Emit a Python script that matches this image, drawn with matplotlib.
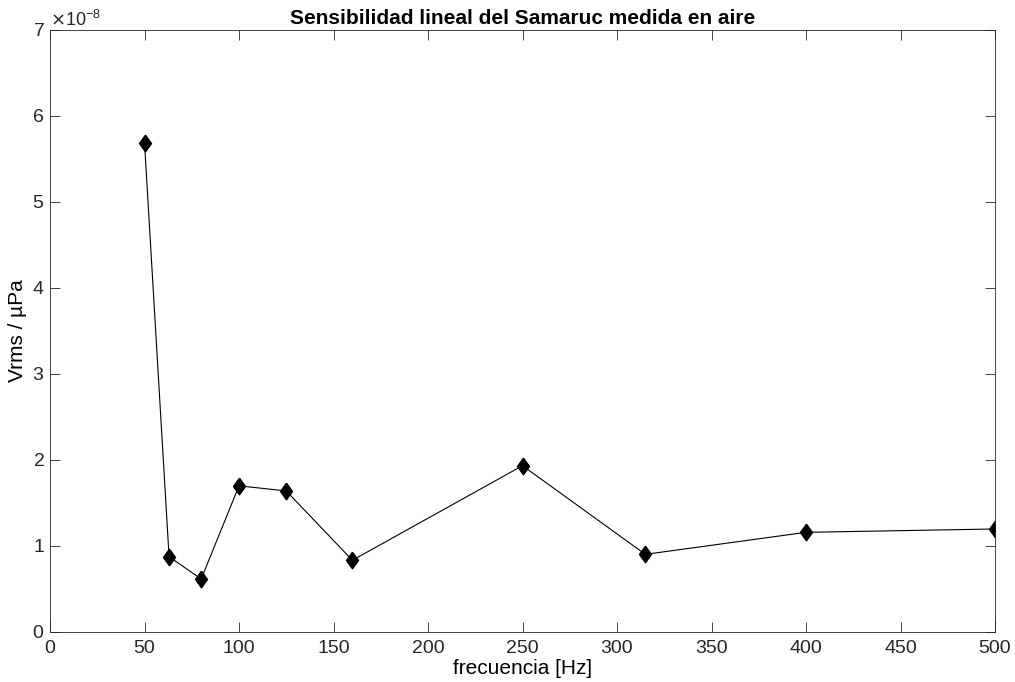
import matplotlib
matplotlib.use('Agg')
import matplotlib.pyplot as plt
from matplotlib.ticker import ScalarFormatter

plt.rcParams['font.family'] = ['Liberation Sans', 'DejaVu Sans']

# frecuencias de tercio de octava y sensibilidad medida
freq = [50, 63, 80, 100, 125, 160, 250, 315, 400, 500]
sens = [5.69e-8, 0.876e-8, 0.616e-8, 1.70e-8, 1.64e-8, 0.834e-8,
        1.934e-8, 0.903e-8, 1.159e-8, 1.198e-8]
xticks = [0, 50, 100, 150, 200, 250, 300, 350, 400, 450, 500]
yticks = [0, 1e-8, 2e-8, 3e-8, 4e-8, 5e-8, 6e-8, 7e-8]

fig = plt.figure(figsize=(10.15, 6.82), dpi=100)
ax = fig.add_axes([50 / 1015, 50 / 682, 945 / 1015, 602 / 682])

diamond = [(0, 1), (0.72, 0), (0, -1), (-0.72, 0), (0, 1)]
ax.plot(freq, sens, color='black', lw=0.8, marker=diamond,
        markersize=12, markerfacecolor='black', markeredgecolor='black')

ax.set_xlim(0, 500)
ax.set_ylim(0, 7e-8)
ax.set_xticks(xticks)
ax.set_yticks(yticks)

fmt = ScalarFormatter(useMathText=True)
fmt.set_powerlimits((0, 0))
ax.yaxis.set_major_formatter(fmt)
ax.yaxis.get_offset_text().set_fontsize(13)

ax.tick_params(direction='in', top=True, right=True, length=7,
               width=0.6, labelsize=14, colors='#262626', pad=4)
ax.tick_params(axis='x', pad=6)
for s in ax.spines.values():
    s.set_linewidth(0.6)
    s.set_color('#262626')

ax.set_title('Sensibilidad lineal del Samaruc medida en aire',
             fontsize=15, fontweight='bold', pad=4)
ax.set_xlabel('frecuencia [Hz]', fontsize=15, labelpad=1)
ax.set_ylabel('Vrms / µPa', fontsize=15, labelpad=4)

fig.savefig('out.png', dpi=100)
